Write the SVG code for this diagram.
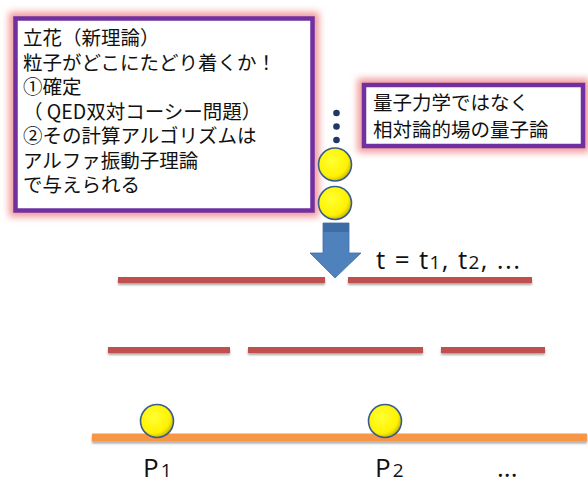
<svg xmlns="http://www.w3.org/2000/svg" width="588" height="481" viewBox="0 0 588 481">
<defs>
<filter id="glow" x="-10%" y="-20%" width="120%" height="140%">
<feGaussianBlur stdDeviation="3.5"/>
</filter>
<radialGradient id="ball" cx="0.4" cy="0.38" r="0.65">
<stop offset="0" stop-color="#FFFF33"/>
<stop offset="0.75" stop-color="#FFF200"/>
<stop offset="1" stop-color="#C8B400"/>
</radialGradient>
<filter id="shadow" x="-20%" y="-50%" width="140%" height="200%">
<feGaussianBlur in="SourceAlpha" stdDeviation="1"/>
<feOffset dy="1.5"/>
<feComponentTransfer><feFuncA type="linear" slope="0.35"/></feComponentTransfer>
<feMerge><feMergeNode/><feMergeNode in="SourceGraphic"/></feMerge>
</filter>
</defs>
<style>
.jp{font-family:"Noto Sans CJK JP","Noto Sans",sans-serif;font-size:19.5px;fill:#111}
.lat{font-family:"Open Sans","Noto Sans",sans-serif;font-size:26px;fill:#111}
.box{fill:#fff;stroke:#7030A0;stroke-width:4.5}
.halo{fill:none;stroke:#F29A9A;stroke-width:13}
.red{stroke:#C0504D;stroke-width:6}
.ball{fill:url(#ball);stroke:#385D8A;stroke-width:1.6}
.dot{fill:#1F3864}
</style>

<g id="box-left">
<rect class="halo" x="15.5" y="18.5" width="297" height="192" filter="url(#glow)"/>
<rect class="box" x="15.5" y="18.5" width="297" height="192"/>
<text class="jp" x="23" y="45">立花（新理論）</text>
<text class="jp" x="23" y="69.5">粒子がどこにたどり着くか！</text>
<text class="jp" x="23" y="94">①確定</text>
<text class="jp" x="23" y="118.5">（ QED双対コーシー問題）</text>
<text class="jp" x="23" y="143">②その計算アルゴリズムは</text>
<text class="jp" x="23" y="167.5">アルファ振動子理論</text>
<text class="jp" x="23" y="192">で与えられる</text>
</g>

<g id="box-right">
<rect class="halo" x="364" y="85" width="219" height="61" filter="url(#glow)"/>
<rect class="box" x="364" y="85" width="219" height="61"/>
<text class="jp" x="373" y="110">量子力学ではなく</text>
<text class="jp" x="373" y="137">相対論的場の量子論</text>
</g>

<g id="stack">
<circle class="dot" cx="336.5" cy="113" r="3.3"/>
<circle class="dot" cx="336.5" cy="126.5" r="3.3"/>
<circle class="dot" cx="336.5" cy="140" r="3.3"/>
<circle class="ball" cx="335" cy="164.5" r="16.5"/>
<circle class="ball" cx="335" cy="203" r="16.5"/>
</g>

<g id="arrow">
<path d="M323,223 H349 V253 H361 L335,278 L310,253 H323 Z" fill="#4F81BD" stroke="#3F6FA8" stroke-width="0.8"/>
<rect x="323" y="223" width="26" height="9" fill="#3E6DA5"/>
</g>

<g id="time-label">
<text class="lat" x="376" y="269" textLength="144" lengthAdjust="spacing">t = t<tspan font-size="19">1</tspan>, t<tspan font-size="19">2</tspan>, ...</text>
</g>

<g id="connectors" filter="url(#shadow)">
<line class="red" x1="118" y1="280" x2="325" y2="280"/>
<line class="red" x1="348" y1="280" x2="532" y2="280"/>
<line class="red" x1="108" y1="350" x2="230" y2="350"/>
<line class="red" x1="248" y1="350" x2="423" y2="350"/>
<line class="red" x1="441" y1="350" x2="545" y2="350"/>
<line x1="92" y1="437.5" x2="587" y2="437.5" stroke="#F79646" stroke-width="8"/>
</g>

<g id="particles">
<circle class="ball" cx="157" cy="421" r="16.5"/>
<circle class="ball" cx="385" cy="421" r="16.5"/>
</g>

<g id="labels">
<text class="lat" x="143" y="477">P<tspan font-size="19" dx="2">1</tspan></text>
<text class="lat" x="375" y="477">P<tspan font-size="19" dx="2">2</tspan></text>
<text class="lat" x="497" y="477">...</text>
</g>
</svg>
